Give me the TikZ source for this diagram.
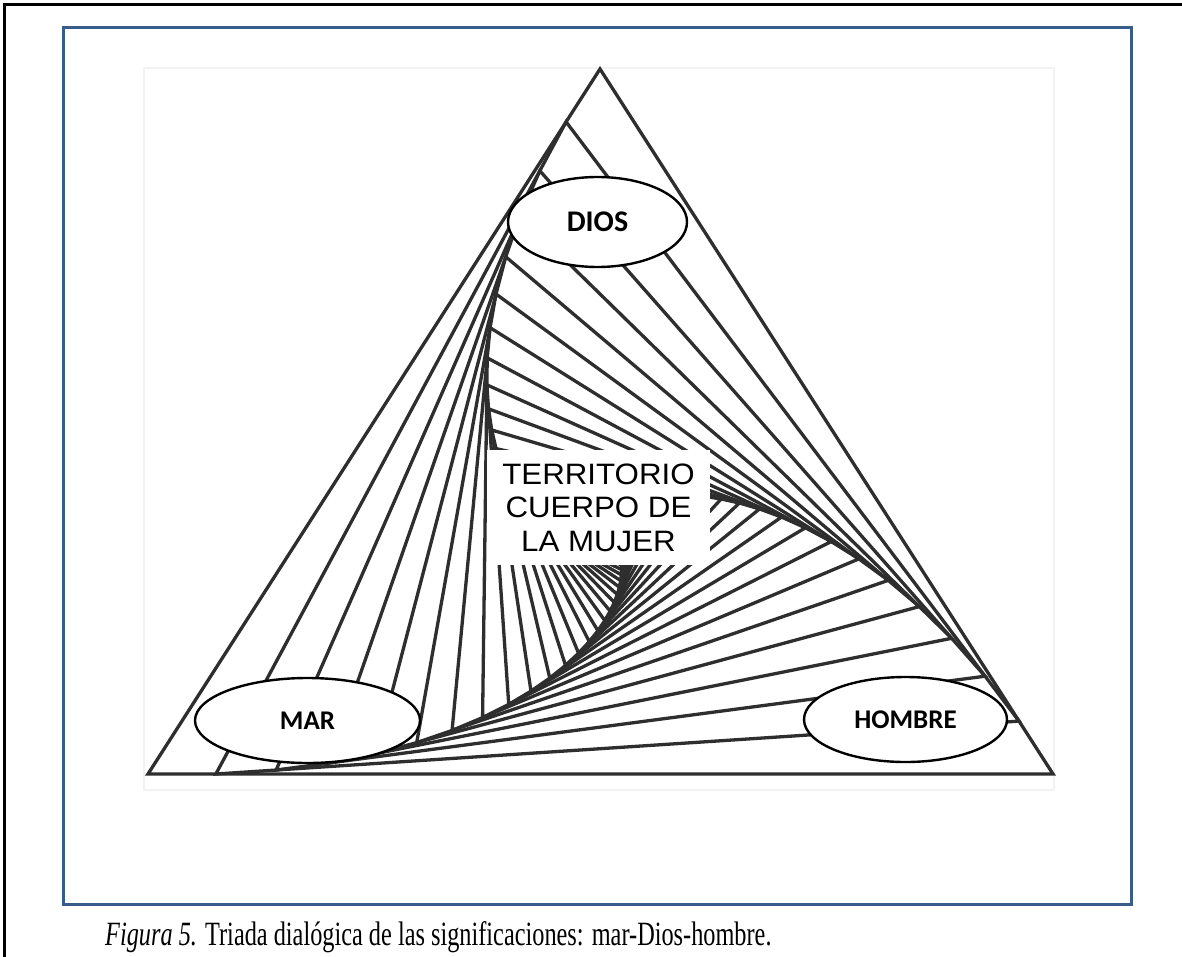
\documentclass[tikz,border=0pt]{standalone}
\usepackage{fontspec}
\setmainfont{Liberation Serif}
\newfontfamily\tagfont{Carlito}
\newfontfamily\boxfont[FakeStretch=1.06]{Liberation Sans}
\newfontfamily\capfont[FakeStretch=0.715]{Liberation Serif}
\usetikzlibrary{calc,shapes.geometric}
\definecolor{frameblue}{RGB}{56,93,138}
\begin{document}
\begin{tikzpicture}[x=1pt,y=-1pt,
  edge/.style={line width=3.3pt, draw=black!82},
  tag/.style={ellipse, draw=black, line width=2.4pt, fill=white, inner sep=0pt,
    font=\tagfont\bfseries\fontsize{27}{32}\selectfont},
  core/.style={fill=white, inner sep=0pt, align=center,
    font=\boxfont\fontsize{29.5}{33.5}\selectfont},
]
\useasboundingbox (0,0) rectangle (1182,957);
\fill[white] (0,0) rectangle (1182,957);

% page rule (left and top)
\draw[line width=3pt] (4.5,957) -- (4.5,4.5) -- (1182,4.5);

% blue frame
\draw[frameblue, line width=3pt] (63.5,27.5) rectangle (1131.5,904.5);

% faint edge of the picture area
\draw[black!5, line width=1.5pt] (144,68) rectangle (1054,790);

% outer triangle and the whirl of nested triangles
\coordinate (A0) at (600,69);
\coordinate (B0) at (148,774);
\coordinate (C0) at (1053,774);
\draw[edge] (A0) -- (B0) -- (C0) -- cycle;
\foreach \i [remember=\i as \j (initially 0)] in {1,...,48} {
  \coordinate (A\i) at ($(A\j)!0.075!(B\j)$);
  \coordinate (B\i) at ($(B\j)!0.075!(C\j)$);
  \coordinate (C\i) at ($(C\j)!0.075!(A\j)$);
  \draw[edge] (A\i) -- (B\i) -- (C\i) -- cycle;
}

% labels
\node[tag, minimum width=179, minimum height=90,
  font=\tagfont\bfseries\fontsize{30}{34}\selectfont] (dios) at (597.5,222) {DIOS};
\node[tag, minimum width=225, minimum height=85] (mar) at (307.5,720.5) {MAR};
\node[tag, minimum width=203, minimum height=85] (hombre) at (905.5,719.5) {HOMBRE};

\node[core, minimum width=223, minimum height=115] (centro) at (598.5,507.5)
  {TERRITORIO\\CUERPO DE\\LA MUJER};

% caption
\node[anchor=base west, inner sep=0pt, font=\capfont\fontsize{34}{40}\selectfont]
  (caption) at (105,945)
  {{\itshape Figura 5.} Triada dialógica de las significaciones: mar-Dios-hombre.};
\end{tikzpicture}
\end{document}
